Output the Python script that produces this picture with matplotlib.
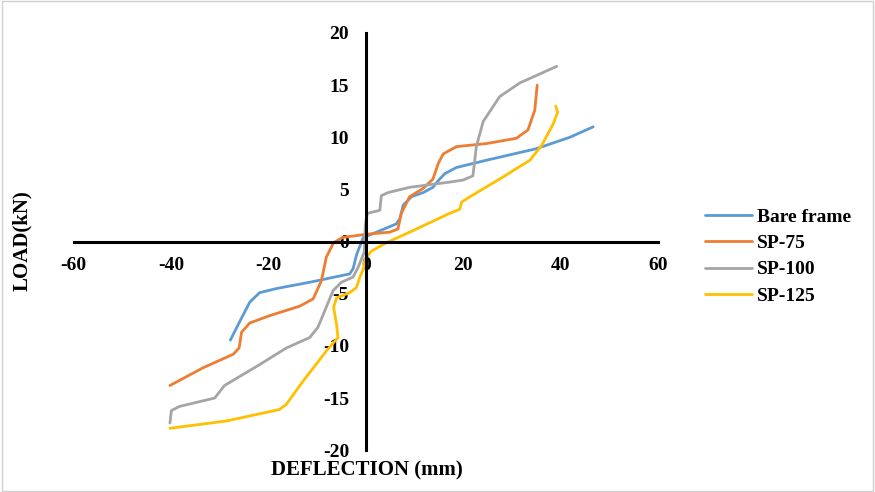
import matplotlib
matplotlib.use("Agg")
import matplotlib.pyplot as plt
from matplotlib.patches import Rectangle

# deflection (mm) and load (kN)
bare_x = [-27.8, -25.8, -23.8, -21.8, -18.3, -11.5, -3.3, -2.6, -1.9, -1.6, -0.5, 2.2, 6.3, 7.0, 7.7, 9.4, 11.8, 13.8, 14.8, 16.2, 18.6, 24.8, 35.0, 41.9, 46.7]
bare_y = [-9.45, -7.6, -5.8, -4.9, -4.5, -3.9, -3.1, -2.6, -1.3, -0.9, 0.4, 0.9, 1.7, 2.2, 3.5, 4.3, 4.7, 5.2, 5.8, 6.5, 7.1, 7.8, 8.9, 10.0, 11.0]

sp75_x = [-40.2, -33.4, -27.2, -26.0, -25.5, -23.8, -19.7, -13.6, -10.8, -9.1, -8.1, -6.6, -4.7, 0.1, 4.9, 6.6, 7.3, 9.0, 11.8, 13.8, 14.9, 15.9, 18.6, 24.8, 30.9, 33.3, 34.7, 35.2]
sp75_y = [-13.8, -12.1, -10.8, -10.2, -8.7, -7.8, -7.1, -6.2, -5.5, -3.75, -1.5, -0.1, 0.4, 0.7, 0.9, 1.2, 2.7, 4.3, 5.1, 6.0, 7.5, 8.4, 9.1, 9.4, 9.9, 10.7, 12.6, 15.0]

sp100_x = [-40.2, -39.9, -38.2, -31.0, -29.0, -21.8, -16.3, -11.5, -9.8, -6.7, -5.0, -2.6, -1.6, -0.3, -0.1, 0.3, 2.9, 3.2, 4.6, 9.0, 17.2, 20.0, 22.0, 22.7, 24.1, 27.5, 31.6, 39.2]
sp100_y = [-17.4, -16.2, -15.8, -15.0, -13.8, -11.8, -10.2, -9.2, -8.2, -4.7, -3.9, -3.4, -2.5, -1.0, 1.5, 2.7, 3.0, 4.4, 4.7, 5.2, 5.7, 5.9, 6.3, 9.1, 11.5, 13.9, 15.2, 16.8]

sp125_x = [-40.2, -28.6, -17.7, -16.3, -12.9, -8.1, -5.7, -6.0, -6.6, -6.0, -3.3, -1.9, -1.2, -0.4, -0.2, 1.2, 4.3, 9.0, 17.2, 19.3, 19.7, 21.4, 28.2, 33.7, 36.1, 38.5, 39.4, 39.0]
sp125_y = [-17.9, -17.2, -16.1, -15.6, -13.4, -10.5, -9.2, -7.9, -6.3, -5.4, -4.9, -4.4, -3.4, -2.5, -1.7, -0.9, -0.1, 0.9, 2.7, 3.1, 3.8, 4.3, 6.2, 7.8, 9.2, 11.3, 12.4, 13.0]

labels = ["Bare frame", "SP-75", "SP-100", "SP-125"]
colors = ["#5B9BD5", "#ED7D31", "#A5A5A5", "#FFC000"]

plt.rcParams['font.family'] = ['Liberation Serif', 'DejaVu Serif']
plt.rcParams['font.weight'] = 'bold'
plt.rcParams['axes.unicode_minus'] = False

fig = plt.figure(figsize=(8.75, 4.92), dpi=100)
fig.patches.append(Rectangle((0.002, 0.002), 0.996, 0.996, transform=fig.transFigure,
                             fill=False, edgecolor="#d0d0d0", linewidth=1))
ax = fig.add_axes([0.084, 0.085, 0.668, 0.848])

series = [(bare_x, bare_y), (sp75_x, sp75_y), (sp100_x, sp100_y), (sp125_x, sp125_y)]
for (xs, ys), lab, c in zip(series, labels, colors):
    ax.plot(xs, ys, color=c, lw=2.0, label=lab, solid_joinstyle='round', solid_capstyle='round')

ax.set_xlim(-60, 60)
ax.set_ylim(-20, 20)
ax.set_xticks([-60, -40, -20, 0, 20, 40, 60])
ax.set_yticks([-20, -15, -10, -5, 0, 5, 10, 15, 20])
ax.spines['left'].set_position('zero')
ax.spines['bottom'].set_position('zero')
ax.spines['right'].set_visible(False)
ax.spines['top'].set_visible(False)
ax.spines['left'].set_linewidth(2.2)
ax.spines['bottom'].set_linewidth(2.2)
ax.tick_params(axis='x', length=0, pad=11, labelsize=14)
ax.tick_params(axis='y', length=0, pad=12, labelsize=14)
for t in ax.get_xticklabels() + ax.get_yticklabels():
    t.set_fontweight('bold')

fig.text(0.025, 0.51, "LOAD(kN)", rotation=90, ha='center', va='center', fontsize=15, fontweight='bold')
fig.text(0.419, 0.043, "DEFLECTION (mm)", ha='center', va='center', fontsize=15, fontweight='bold')

leg = ax.legend(loc='center left', bbox_to_anchor=(0.806, 0.479), bbox_transform=fig.transFigure,
                frameon=False, prop={'size': 14, 'weight': 'bold'}, handlelength=2.4,
                handletextpad=0.25, labelspacing=0.45, borderaxespad=0, borderpad=0)

fig.savefig("out.png", dpi=100)
